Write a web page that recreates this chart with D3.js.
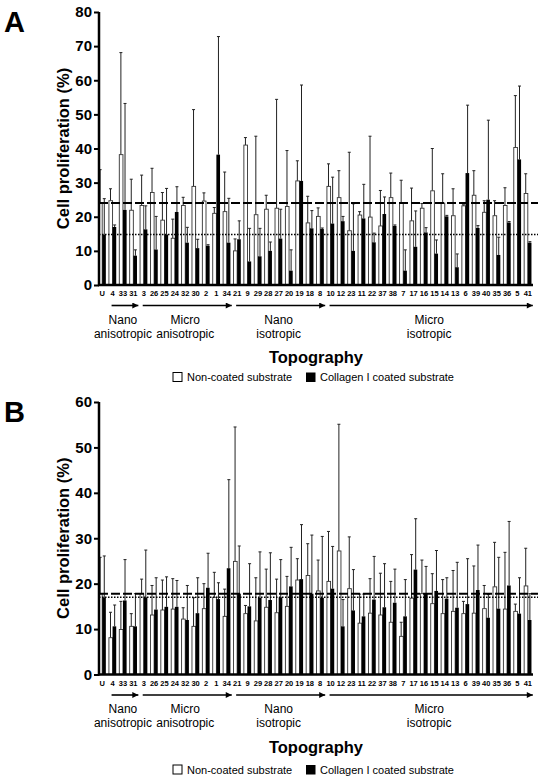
<!DOCTYPE html>
<html>
<head>
<meta charset="utf-8">
<script src="https://cdn.jsdelivr.net/npm/d3@7"></script>
<style>
  html, body { margin: 0; padding: 0; background: #fff; }
  svg { display: block; font-family: "Liberation Sans", Arial, Helvetica, sans-serif; }
</style>
</head>
<body>
<svg id="chart" width="541" height="781"></svg>
<script>
// ---------------- DATA ----------------
const categories = ["U","4","33","31","3","26","25","24","32","30","2","1","34","21","9","29","28","27","20","19","18","8","10","12","23","11","22","37","38","7","17","16","15","14","13","6","39","40","35","36","5","41"];

// Panel A
const aNonCoated    = [24.0,24.7,38.2,21.9,23.3,27.1,19.0,13.7,23.3,28.9,24.6,21.0,21.5,10.0,41.0,20.6,22.2,22.5,23.0,30.5,18.2,20.1,28.9,25.6,15.9,20.5,19.9,17.3,25.6,24.0,18.8,22.5,27.6,24.0,20.3,23.2,26.3,21.3,20.3,23.3,40.3,26.8];
const aNonCoatedErr = [9.8,3.5,29.9,9.1,8.9,7.1,8.1,5.6,2.4,22.5,2.4,1.7,11.6,3.5,2.2,23.0,4.1,31.9,16.4,5.9,7.8,2.5,6.6,7.9,23.0,1.0,23.7,10.4,7.2,6.7,9.6,1.4,12.4,8.6,7.9,0.3,7.2,3.4,4.4,5.2,15.2,5.8];
const aCoated       = [14.8,17.0,22.0,8.6,16.3,10.4,14.8,21.4,12.4,10.8,11.5,38.2,12.4,13.4,6.9,8.4,10.0,13.6,4.2,30.5,16.6,16.4,18.0,18.7,10.0,19.5,12.5,20.8,17.3,4.2,11.2,15.4,9.2,20.1,5.2,32.8,16.7,25.0,8.8,18.3,36.8,12.4];
const aCoatedErr    = [10.5,0.6,31.2,1.7,6.9,9.7,13.5,7.4,4.5,2.6,0.3,34.6,13.0,5.4,9.7,8.2,2.6,8.6,6.1,28.1,5.2,0.3,13.6,1.4,13.8,10.0,2.7,5.0,0.3,6.1,10.5,1.4,4.0,0.3,3.9,19.9,0.7,23.3,5.2,0.3,21.5,0.3];
const aRefLines     = [24.0, 14.8];   // dashed, dotted
const aTicks        = [0,10,20,30,40,50,60,70,80];

// Panel B
const bNonCoated    = [17.8,8.1,9.9,10.6,17.8,13.1,14.2,14.4,12.2,10.6,14.5,17.0,12.8,24.9,13.4,11.8,14.8,13.6,15.0,20.8,21.8,18.4,20.5,27.2,18.9,11.3,13.5,13.1,11.5,8.4,16.8,17.8,15.6,13.4,13.9,13.4,13.5,14.5,19.3,14.4,13.9,19.5];
const bNonCoatedErr = [8.0,5.6,6.2,2.8,3.2,6.5,6.6,6.7,2.5,6.3,5.5,5.5,6.0,29.6,1.8,9.5,8.4,7.4,6.6,4.7,7.0,6.8,11.0,27.9,11.4,6.4,7.6,9.2,9.0,3.1,9.6,7.4,6.6,7.5,9.0,2.7,10.4,5.1,9.8,12.5,1.6,8.3];
const bCoated       = [17.0,10.6,16.3,10.6,17.0,14.3,14.9,14.9,12.0,13.5,19.1,16.6,23.4,17.8,15.0,16.9,16.4,17.0,19.4,21.0,17.8,16.9,18.9,10.6,14.1,12.8,16.5,14.8,15.8,12.8,23.1,17.8,18.4,16.7,14.7,15.5,18.6,12.5,14.5,19.6,13.4,12.0];
const bCoatedErr    = [9.1,4.7,9.0,7.2,10.4,7.0,6.6,5.8,7.6,7.8,7.6,3.6,19.5,10.5,9.4,10.1,10.4,8.3,8.6,12.0,12.9,13.5,9.3,5.9,9.0,4.9,9.5,9.6,7.4,8.1,11.2,6.0,8.9,4.6,10.0,10.0,9.9,5.1,11.3,14.1,7.9,5.8];
const bRefLines     = [17.8, 17.0];
const bTicks        = [0,10,20,30,40,50,60];

const groupNames = [["Nano","anisotropic"],["Micro","anisotropic"],["Nano","isotropic"],["Micro","isotropic"]];
const groupFirst = ["4","3","21","10"];
const groupLast  = ["31","34","8","41"];
const seriesNames = ["Non-coated substrate","Collagen I coated substrate"];

// ---------------- DRAW ----------------
const svg = d3.select("#chart");
const defs = svg.append("defs");
defs.append("marker").attr("id","arrowhead")
  .attr("viewBox","0 0 10 10").attr("refX",10).attr("refY",5)
  .attr("markerWidth",7).attr("markerHeight",6).attr("markerUnits","userSpaceOnUse")
  .attr("orient","auto")
  .append("path").attr("d","M0,0 L10,5 L0,10 Z").attr("fill","#000");

const x = d3.scaleBand().domain(categories).range([97, 533]).paddingInner(0.2).paddingOuter(0.1);
const axisX = 99;
const axisRight = 533;

function drawPanel(cfg) {
  const g = svg.append("g");
  const y = d3.scaleLinear().domain([0, cfg.max]).range([cfg.base, cfg.top]);
  const half = x.bandwidth() / 2;

  // panel letter
  g.append("text").attr("x", 4).attr("y", cfg.top + 20)
    .attr("font-size", 29).attr("font-weight", "bold").text(cfg.letter);

  // bars
  const series = [
    {vals: cfg.non, errs: cfg.nonErr, off: 0, fill: "#fff", stroke: "#333"},
    {vals: cfg.col, errs: cfg.colErr, off: half, fill: "#000", stroke: "#000"}
  ];
  series.forEach(s => {
    const sg = g.append("g");
    // error bars (upper whisker)
    sg.selectAll("line.err").data(categories).join("line")
      .attr("x1", (c) => x(c) + s.off + half / 2).attr("x2", (c) => x(c) + s.off + half / 2)
      .attr("y1", (c, i) => y(s.vals[i])).attr("y2", (c, i) => y(s.vals[i] + s.errs[i]))
      .attr("stroke", "#222").attr("stroke-width", 1);
    sg.selectAll("line.cap").data(categories).join("line")
      .attr("x1", (c) => x(c) + s.off + half / 2 - 1.5).attr("x2", (c) => x(c) + s.off + half / 2 + 1.5)
      .attr("y1", (c, i) => y(s.vals[i] + s.errs[i])).attr("y2", (c, i) => y(s.vals[i] + s.errs[i]))
      .attr("stroke", "#222").attr("stroke-width", 1);
    sg.selectAll("rect").data(categories).join("rect")
      .attr("x", (c) => x(c) + s.off + (s.off ? 0 : 0.5))
      .attr("width", half - 0.5)
      .attr("y", (c, i) => y(s.vals[i]))
      .attr("height", (c, i) => cfg.base - y(s.vals[i]))
      .attr("fill", s.fill).attr("stroke", s.stroke).attr("stroke-width", s.off ? 0 : 0.9);
  });

  // reference lines
  g.append("line").attr("x1", axisX).attr("x2", 538)
    .attr("y1", y(cfg.ref[0])).attr("y2", y(cfg.ref[0]))
    .attr("stroke", "#000").attr("stroke-width", 2).attr("stroke-dasharray", "9,3");
  g.append("line").attr("x1", axisX).attr("x2", 538)
    .attr("y1", y(cfg.ref[1])).attr("y2", y(cfg.ref[1]))
    .attr("stroke", "#000").attr("stroke-width", 1.5).attr("stroke-dasharray", "1.5,1.5");

  // y axis
  const ya = g.append("g").attr("transform", `translate(${axisX},0)`)
    .call(d3.axisLeft(y).tickValues(cfg.ticks).tickSize(5).tickSizeOuter(0).tickPadding(2));
  ya.select(".domain").attr("stroke-width", 2.5).attr("d", `M0,${cfg.base + 1}V${cfg.top}`);
  ya.selectAll(".tick line").attr("stroke-width", 2);
  ya.selectAll(".tick text").attr("font-size", 15).attr("font-weight", "bold")
    .attr("font-family", "Liberation Sans, Arial, sans-serif").attr("fill", "#000");

  // x axis
  const xa = g.append("g").attr("transform", `translate(0,${cfg.base})`)
    .call(d3.axisBottom(x).tickSize(0).tickPadding(6));
  xa.select(".domain").attr("stroke-width", 2.5).attr("d", `M${axisX - 1},0H${axisRight}`);
  xa.selectAll(".tick text").attr("font-size", 7.5).attr("font-weight", "bold")
    .attr("font-family", "Liberation Sans, Arial, sans-serif").attr("fill", "#000");

  // y label
  g.append("text")
    .attr("transform", `translate(69,${(cfg.base + cfg.top) / 2}) rotate(-90)`)
    .attr("text-anchor", "middle").attr("font-size", 16.5).attr("font-weight", "bold")
    .text("Cell proliferation (%)");

  // groups: arrows + labels
  const cx = c => x(c) + x.bandwidth() / 2;
  groupNames.forEach((nm, i) => {
    const x1 = cx(groupFirst[i]) - 1, x2 = cx(groupLast[i]) + 5;
    g.append("line").attr("x1", x1).attr("x2", x2)
      .attr("y1", cfg.base + 20.5).attr("y2", cfg.base + 20.5)
      .attr("stroke", "#000").attr("stroke-width", 1.6).attr("marker-end", "url(#arrowhead)");
    const mid = (cx(groupFirst[i]) + cx(groupLast[i])) / 2;
    nm.forEach((t, j) => {
      g.append("text").attr("x", mid).attr("y", cfg.base + 38.5 + j * 14)
        .attr("text-anchor", "middle").attr("font-size", 12).text(t);
    });
  });

  // axis title
  g.append("text").attr("x", 316).attr("y", cfg.base + 78)
    .attr("text-anchor", "middle").attr("font-size", 16.5).attr("font-weight", "bold").text("Topography");

  // legend
  const ly = cfg.base + cfg.legendOff;
  const leg = g.append("g");
  leg.append("rect").attr("x", 173).attr("y", ly - 4.5).attr("width", 9).attr("height", 9)
    .attr("fill", "#fff").attr("stroke", "#000").attr("stroke-width", 1);
  leg.append("text").attr("x", 187).attr("y", ly + 4).attr("font-size", 11).text(seriesNames[0]);
  leg.append("rect").attr("x", 306).attr("y", ly - 4.5).attr("width", 9.5).attr("height", 9.5)
    .attr("fill", "#000");
  leg.append("text").attr("x", 320).attr("y", ly + 4).attr("font-size", 11).text(seriesNames[1]);
}

drawPanel({letter: "A", base: 285, top: 12, max: 80, ticks: aTicks,
  non: aNonCoated, nonErr: aNonCoatedErr, col: aCoated, colErr: aCoatedErr, ref: aRefLines, legendOff: 92});
drawPanel({letter: "B", base: 674.5, top: 402, max: 60, ticks: bTicks,
  non: bNonCoated, nonErr: bNonCoatedErr, col: bCoated, colErr: bCoatedErr, ref: bRefLines, legendOff: 95});
</script>
</body>
</html>
